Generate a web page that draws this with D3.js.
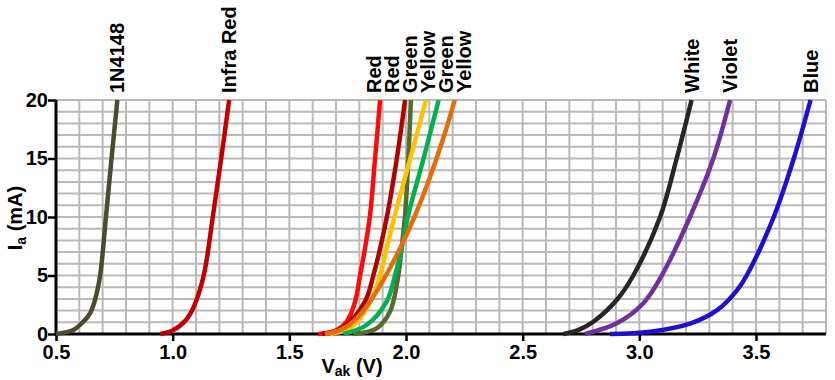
<!DOCTYPE html>
<html>
<head>
<meta charset="utf-8">
<script src="https://cdn.jsdelivr.net/npm/d3@7"></script>
<style>
  html, body { margin: 0; padding: 0; background: #ffffff; }
  svg { display: block; }
  text { font-family: "Liberation Sans", Arial, sans-serif; font-weight: bold; fill: #000; }
</style>
</head>
<body>
<svg id="chart" width="835" height="380"></svg>
<script>
// ---------------- data ----------------
const seriesNames = ["1N4148", "Infra Red", "Red", "Red", "Green", "Yellow", "Green", "Yellow", "White", "Violet", "Blue"];

// forward voltage (V) for each series
const seriesVolts = [
  [0.500, 0.574, 0.617, 0.646, 0.667, 0.689, 0.714, 0.738, 0.763],
  [0.946, 1.000, 1.057, 1.090, 1.133, 1.172, 1.208, 1.242],
  [1.624, 1.700, 1.746, 1.782, 1.803, 1.824, 1.846, 1.867, 1.889],
  [1.639, 1.720, 1.774, 1.831, 1.860, 1.889, 1.920, 1.960, 1.996],
  [1.774, 1.874, 1.931, 1.963, 1.981, 1.996, 2.010, 2.021],
  [1.674, 1.750, 1.803, 1.860, 1.889, 1.917, 1.953, 2.017, 2.086],
  [1.731, 1.831, 1.917, 1.953, 1.981, 2.010, 2.074, 2.140],
  [1.653, 1.720, 1.774, 1.846, 1.914, 1.979, 2.036, 2.086, 2.131, 2.172, 2.209],
  [2.674, 2.740, 2.803, 2.903, 2.974, 3.089, 3.160, 3.224],
  [2.767, 2.903, 3.017, 3.096, 3.217, 3.317, 3.389],
  [2.874, 3.046, 3.220, 3.335, 3.420, 3.460, 3.576, 3.662, 3.734]
];

// anode current (mA) matching the voltages above
const seriesCurrents = [
  [0, 0.34, 1.05, 1.77, 2.9, 5, 10, 15, 20],
  [0, 0.3, 1.2, 2.3, 5, 10, 15, 20],
  [0, 0.3, 1.05, 2.77, 5, 7.3, 10.2, 14.9, 20],
  [0, 0.4, 1.34, 3.06, 5, 7.3, 10.2, 14.9, 20],
  [0, 0.48, 1.9, 4.5, 7.3, 10.2, 14.9, 20],
  [0, 0.4, 1.34, 3.3, 5, 7.3, 10.2, 14.9, 20],
  [0, 0.77, 2.77, 5, 7.3, 10.2, 14.9, 20],
  [0, 0.35, 1.05, 2.77, 5, 7.5, 10, 12.5, 15, 17.5, 20],
  [0, 0.35, 1.05, 2.9, 5, 10, 15, 20],
  [0, 0.91, 2.63, 5, 10, 15, 20],
  [0, 0.2, 0.91, 2.06, 3.77, 5, 10, 15, 20]
];

const xTicks = [0.5, 1.0, 1.5, 2.0, 2.5, 3.0, 3.5];
const yTicks = [0, 5, 10, 15, 20];

// ---------------- styles ----------------
const seriesColors = ["#4d4a33", "#c00000", "#ff0a0a", "#b00000", "#566b2c", "#ffc000",
                      "#00b050", "#e46c0a", "#262626", "#7030a0", "#2010cc"];

// ---------------- layout ----------------
const svg = d3.select("#chart");
const x = d3.scaleLinear().domain([0.5, 3.8]).range([56, 826]);
const y = d3.scaleLinear().domain([0, 20]).range([334, 100]);

// grid
const gridColor = "#b9b9b9";
const vGrid = d3.range(5, 39).map(d => d / 10);
const hGrid = d3.range(1, 21);
svg.append("g").selectAll("line").data(vGrid).join("line")
  .attr("x1", d => x(d)).attr("x2", d => x(d))
  .attr("y1", y(0)).attr("y2", y(20))
  .attr("stroke", gridColor).attr("stroke-width", 2);
svg.append("g").selectAll("line").data(hGrid).join("line")
  .attr("x1", x(0.5)).attr("x2", x(3.8))
  .attr("y1", d => y(d)).attr("y2", d => y(d))
  .attr("stroke", gridColor).attr("stroke-width", 2);

// axes
const xAxis = d3.axisBottom(x).tickValues(xTicks).tickFormat(d3.format(".1f"))
  .tickSize(7).tickPadding(4);
const yAxis = d3.axisLeft(y).tickValues(yTicks).tickFormat(d3.format("d"))
  .tickSize(8).tickPadding(0);

const gx = svg.append("g").attr("transform", `translate(0,${y(0)})`).call(xAxis);
const gy = svg.append("g").attr("transform", `translate(${x(0.5)},0)`).call(yAxis);
[gx, gy].forEach(g => {
  g.select(".domain").remove();
  g.selectAll(".tick line").attr("stroke", "#000").attr("stroke-width", 2.5);
  g.selectAll(".tick text").attr("font-size", 20).attr("font-family", "Liberation Sans, Arial, sans-serif")
    .attr("font-weight", "bold").attr("fill", "#000");
});
svg.append("line").attr("x1", x(0.5)).attr("x2", x(3.8)).attr("y1", y(0)).attr("y2", y(0))
  .attr("stroke", "#000").attr("stroke-width", 3);
svg.append("line").attr("x1", x(0.5)).attr("x2", x(0.5)).attr("y1", y(0) + 1.5).attr("y2", y(20))
  .attr("stroke", "#000").attr("stroke-width", 3);

// curves
const line = d3.line().x(d => x(d[0])).y(d => y(d[1])).curve(d3.curveCatmullRom.alpha(0.5));
seriesNames.forEach((name, k) => {
  const pts = seriesVolts[k].map((v, j) => [v, seriesCurrents[k][j]]);
  svg.append("path").datum(pts)
    .attr("d", line)
    .attr("fill", "none")
    .attr("stroke", seriesColors[k])
    .attr("stroke-width", 4.5)
    .attr("stroke-linecap", "butt");
});

// series labels: rotated, at the top end of each curve, spread to avoid overlap
const spacing = 18;
let items = seriesNames.map((name, k) => {
  const vs = seriesVolts[k];
  return { name, want: x(vs[vs.length - 1]) + 7 };
}).sort((a, b) => a.want - b.want);
let clusters = items.map(it => ({ members: [it], center: it.want }));
let changed = true;
while (changed) {
  changed = false;
  for (let i = 0; i < clusters.length - 1; i++) {
    const a = clusters[i], b = clusters[i + 1];
    const aEnd = a.center + (a.members.length - 1) * spacing / 2;
    const bStart = b.center - (b.members.length - 1) * spacing / 2;
    if (bStart - aEnd < spacing) {
      const members = a.members.concat(b.members);
      const center = d3.mean(members, m => m.want);
      clusters.splice(i, 2, { members, center });
      changed = true;
      break;
    }
  }
}
clusters.forEach(c => {
  c.members.forEach((m, j) => {
    m.pos = c.center + (j - (c.members.length - 1) / 2) * spacing;
  });
});
svg.append("g").selectAll("text").data(items).join("text")
  .attr("transform", d => `translate(${d.pos},93) rotate(-90)`)
  .attr("text-anchor", "start")
  .attr("font-size", 20)
  .text(d => d.name);

// axis titles
const yTitle = svg.append("text")
  .attr("transform", `translate(22,218) rotate(-90)`)
  .attr("text-anchor", "middle")
  .attr("font-size", 20);
yTitle.append("tspan").text("I");
yTitle.append("tspan").attr("font-size", 14).attr("dy", 4).text("a");
yTitle.append("tspan").attr("dy", -4).text(" (mA)");

const xTitle = svg.append("text")
  .attr("x", 352).attr("y", 373)
  .attr("text-anchor", "middle")
  .attr("font-size", 20);
xTitle.append("tspan").text("V");
xTitle.append("tspan").attr("font-size", 14).attr("dy", 3).text("ak");
xTitle.append("tspan").attr("dy", -3).text(" (V)");
</script>
</body>
</html>
